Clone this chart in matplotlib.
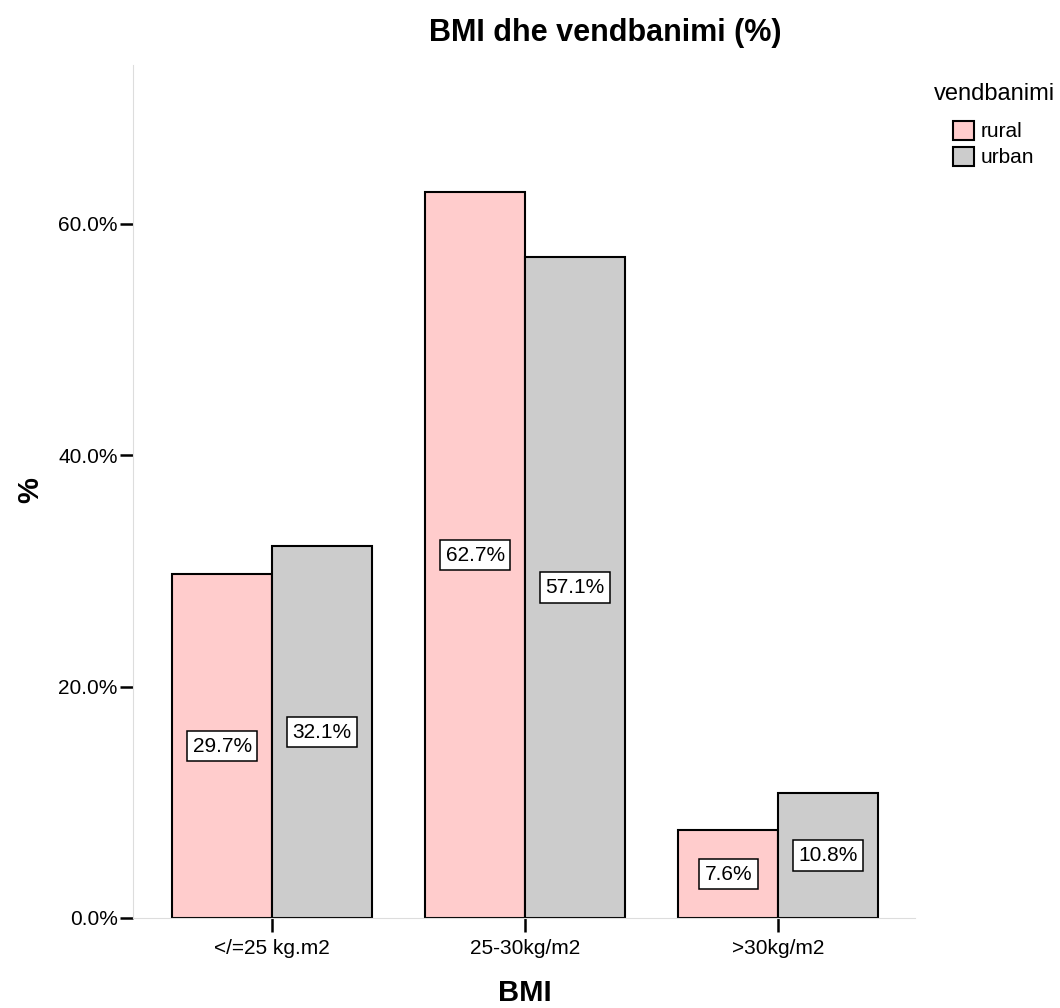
import matplotlib
matplotlib.use("Agg")
import matplotlib.pyplot as plt
import numpy as np

plt.rcParams['font.family'] = ['Liberation Sans', 'DejaVu Sans']

categories = ['</=25 kg.m2', '25-30kg/m2', '>30kg/m2']
groups = ['rural', 'urban']
rural = [29.7, 62.7, 7.6]
urban = [32.1, 57.1, 10.8]
yticks = [0, 20, 40, 60]

colors = {'rural': '#FFCCCC', 'urban': '#CCCCCC'}

fig = plt.figure(figsize=(10.6, 10.08), dpi=100)
ax = fig.add_axes([0.1255, 0.0893, 0.863 - 0.1255, 0.9355 - 0.0893])

x = np.arange(1, len(categories) + 1)
width = 0.395
handles = []
for offset, name, vals in [(-width / 2, 'rural', rural), (width / 2, 'urban', urban)]:
    bars = ax.bar(x + offset, vals, width, color=colors[name], edgecolor='black',
                  linewidth=1.5, label=name, zorder=2)
    handles.append(bars)
    # value labels sit halfway up each bar
    for xi, v in zip(x + offset, vals):
        ax.text(xi, v / 2, f'{v:.1f}%', ha='center', va='center', fontsize=15, zorder=3,
                bbox=dict(boxstyle='square,pad=0.27', facecolor='white',
                          edgecolor='black', linewidth=1.1))

ax.set_xlim(0.45, 3.54)
ax.set_ylim(0, 73.7)
ax.set_xticks(x)
ax.set_xticklabels(categories, fontsize=15)
ax.set_yticks(yticks)
ax.set_yticklabels([f'{t:.1f}%' for t in yticks], fontsize=15)
ax.tick_params(axis='y', length=9.5, width=1.8, pad=1.5, color='black')
ax.tick_params(axis='x', length=10, width=1.8, pad=5, color='black')

for side in ['top', 'right']:
    ax.spines[side].set_visible(False)
for side in ['left', 'bottom']:
    ax.spines[side].set_color('#DDDDDD')
    ax.spines[side].set_linewidth(0.8)

fig.text(605 / 1060, 1 - 33 / 1008, 'BMI dhe vendbanimi (%)', ha='center', va='center',
         fontsize=22, fontweight='bold')
fig.text(525 / 1060, 1 - 993 / 1008, 'BMI', ha='center', va='center',
         fontsize=21, fontweight='bold')
fig.text(30 / 1060, 1 - 490 / 1008, '%', ha='center', va='center', rotation=90,
         fontsize=21, fontweight='bold')

# legend: title as its own text, entries below
fig.text(994 / 1060, 1 - 94 / 1008, 'vendbanimi', ha='center', va='center', fontsize=17)
leg = fig.legend(handles=handles, labels=groups,
                 loc='upper left', bbox_to_anchor=(938 / 1060, 1 - 106 / 1008),
                 frameon=False, fontsize=15,
                 handlelength=1.05, handleheight=1.05, handletextpad=0.3,
                 labelspacing=0.25, borderpad=0.2)

fig.savefig('out.png', dpi=100)
